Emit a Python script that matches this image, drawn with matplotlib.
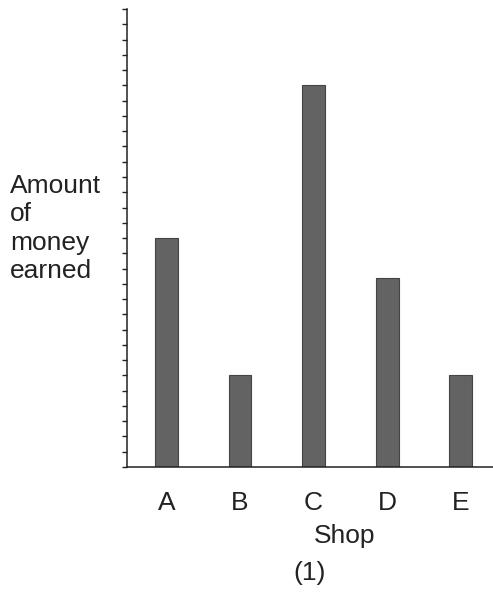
import matplotlib
matplotlib.use("Agg")
import matplotlib.pyplot as plt
from matplotlib.ticker import MultipleLocator, NullFormatter

plt.rcParams['font.family'] = ['Liberation Sans', 'DejaVu Sans']

# data (one tick = 1 unit, no numbers shown)
shops = ['A', 'B', 'C', 'D', 'E']
money = [15, 6, 25, 12.4, 6]
y_top = 30

fig = plt.figure(figsize=(4.93, 6.07), dpi=100)
ax = fig.add_axes([0.2576, 0.2306, 0.7424, 0.7545])

x = list(range(len(shops)))
ax.bar(x, money, width=0.31, color='#636363', edgecolor='#444444', linewidth=0.8)

ax.set_xlim(-0.537, 4.44)
ax.set_ylim(0, y_top)

# spines: only left and bottom
for side in ['top', 'right']:
    ax.spines[side].set_visible(False)
for side in ['left', 'bottom']:
    ax.spines[side].set_color('#222222')
    ax.spines[side].set_linewidth(1.1)

# small ticks on the y axis, no numbers
ax.yaxis.set_major_locator(MultipleLocator(1))
ax.yaxis.set_major_formatter(NullFormatter())
ax.tick_params(axis='y', direction='out', length=3.8, width=1.0, color='#222222')

ax.set_xticks(x)
ax.set_xticklabels(shops)
ax.tick_params(axis='x', length=0, pad=17, labelsize=19, labelcolor='#222222')

fig.text(0.02, 0.713, 'Amount\nof\nmoney\nearned', ha='left', va='top',
         fontsize=19, color='#222222', linespacing=1.22)
fig.text(0.698, 0.1054, 'Shop', ha='center', va='baseline', fontsize=19, color='#222222')
fig.text(0.627, 0.0445, '(1)', ha='center', va='baseline', fontsize=19, color='#222222')

fig.savefig('out.png', dpi=100)
